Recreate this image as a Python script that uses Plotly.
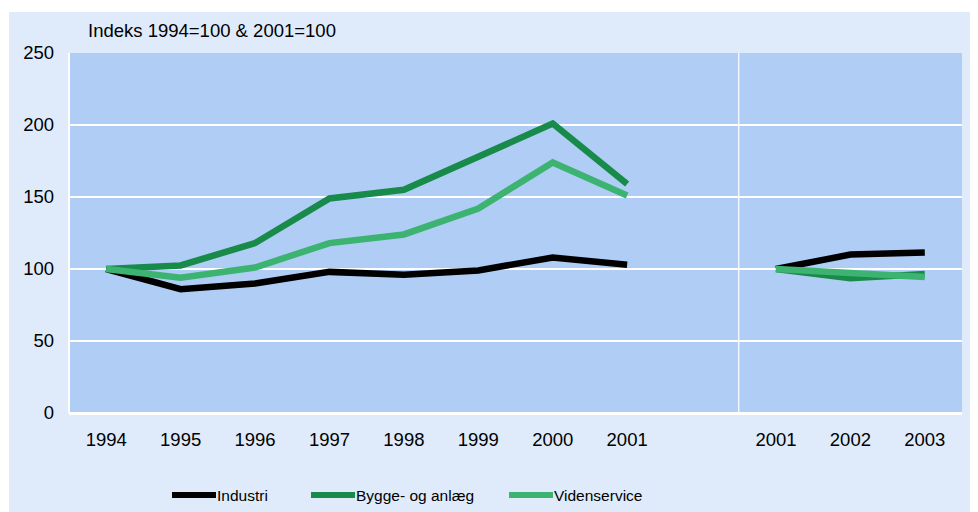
import plotly.graph_objects as go

# ---- data ----
years_left = ["1994", "1995", "1996", "1997", "1998", "1999", "2000", "2001"]
years_right = ["2001", "2002", "2003"]

industri_left = [100, 86, 90, 98, 96, 99, 108, 103]
bygge_left = [100, 102.5, 118, 149, 155, 178, 201, 159]
viden_left = [100, 94, 101, 118, 124, 142, 174, 151]

industri_right = [100, 110, 111.5]
bygge_right = [100, 93.5, 96.5]
viden_right = [100, 97, 94.5]

series_names = ["Industri", "Bygge- og anlæg", "Videnservice"]
series_colors = ["#000000", "#188A4A", "#3CB371"]

y_ticks = [0, 50, 100, 150, 200, 250]
axis_note = "Indeks 1994=100 & 2001=100"

# positions: left block, one empty slot, right block
x_left = list(range(len(years_left)))
gap = len(years_left)
x_right = [gap + 1 + i for i in range(len(years_right))]

FONT = "Liberation Sans, Arial, sans-serif"

# page is offset 8px by the body margin; plot area (page coords) 69..962 x 53..413
L, T = 61, 45
PW, PH = 893, 360

fig = go.Figure()
left_vals = [industri_left, bygge_left, viden_left]
right_vals = [industri_right, bygge_right, viden_right]
for name, col, lv, rv in zip(series_names, series_colors, left_vals, right_vals):
    fig.add_trace(go.Scatter(x=x_left, y=lv, mode="lines", name=name,
                             line=dict(color=col, width=6.5), showlegend=False))
    fig.add_trace(go.Scatter(x=x_right, y=rv, mode="lines", name=name,
                             line=dict(color=col, width=6.5), showlegend=False))

# white strips outside the light-blue panel (top and left)
fig.add_shape(type="rect", xref="paper", yref="paper",
              x0=-0.2, x1=1.2, y0=(T + PH - 4) / PH, y1=1.5,
              fillcolor="white", line=dict(width=0), layer="below")
fig.add_shape(type="rect", xref="paper", yref="paper",
              x0=-0.2, x1=(1 - L) / PW, y0=-0.5, y1=1.5,
              fillcolor="white", line=dict(width=0), layer="below")
# separator line between blocks
fig.add_shape(type="line", xref="x", yref="paper", x0=gap + 0.5, x1=gap + 0.5, y0=0, y1=1,
              line=dict(color="white", width=1.2), layer="below")
# left border line
fig.add_shape(type="line", xref="paper", yref="paper", x0=0, x1=0, y0=0, y1=1,
              line=dict(color="white", width=2), layer="below")

# manual legend (page px)
leg_y = (413 - 495) / PH
leg_items = [(172, 216), (311, 355), (509, 553)]
for (a, b), name, col in zip(leg_items, series_names, series_colors):
    fig.add_shape(type="line", xref="paper", yref="paper",
                  x0=(a - 69) / PW, x1=(b - 69) / PW, y0=leg_y, y1=leg_y,
                  line=dict(color=col, width=6))
    fig.add_annotation(xref="paper", yref="paper", x=(b + 1 - 69) / PW, y=leg_y,
                       text=name, showarrow=False, xanchor="left", yanchor="middle",
                       xshift=-2, font=dict(family=FONT, size=15.5, color="black"))

fig.add_annotation(xref="paper", yref="paper", x=(88 - 69) / PW, y=(413 - 30) / PH,
                   text=axis_note, showarrow=False, xanchor="left", yanchor="middle",
                   xshift=-2, font=dict(family=FONT, size=18.5, color="black"))

fig.update_layout(
    width=978, height=512,
    margin=dict(l=L, r=978 - L - PW, t=T, b=512 - T - PH),
    paper_bgcolor="#DFEBFA",
    plot_bgcolor="#B0CEF5",
    font=dict(family=FONT, size=18.5, color="black"),
    xaxis=dict(range=[-0.5, len(years_left) + len(years_right) + 0.5],
               tickmode="array", tickvals=x_left + x_right, ticktext=years_left + years_right,
               showgrid=False, zeroline=False, showline=False, ticks="",
               ticklabelstandoff=13, fixedrange=True),
    yaxis=dict(range=[0, 250], tickmode="array", tickvals=y_ticks,
               showgrid=True, gridcolor="white", gridwidth=2,
               zeroline=True, zerolinecolor="white", zerolinewidth=2.5,
               showline=False, ticks="", ticklabelstandoff=14, fixedrange=True),
)

fig.write_html("out.html")
